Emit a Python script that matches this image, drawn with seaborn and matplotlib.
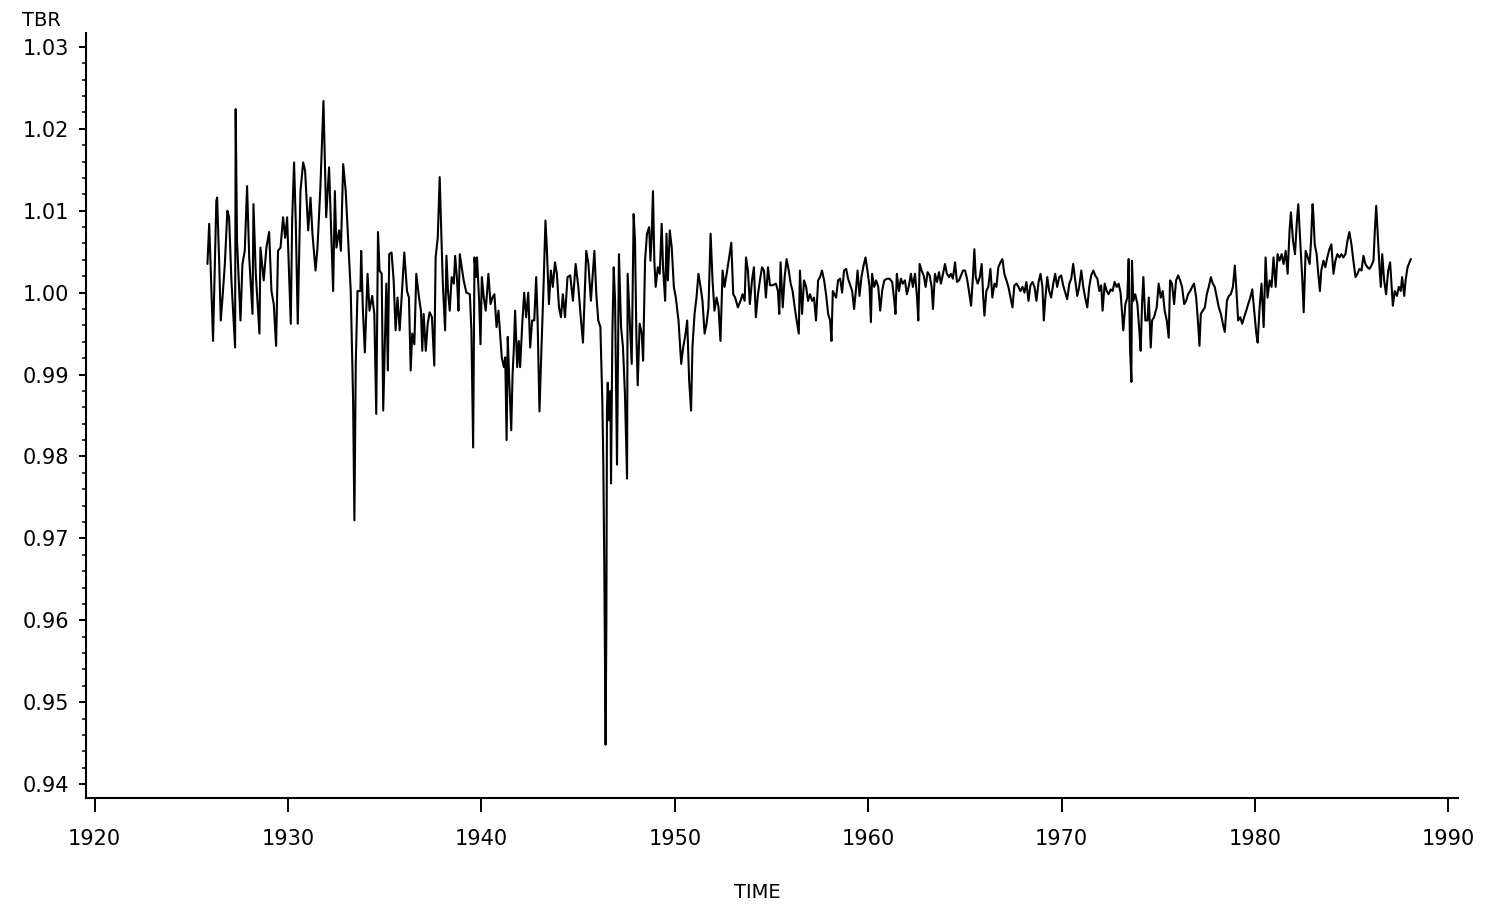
import matplotlib
matplotlib.use("Agg")
import matplotlib.pyplot as plt
import seaborn as sns
import pandas as pd
from matplotlib.ticker import MultipleLocator

# ---------------- data ----------------
TIME = [
    1925.83, 1925.92, 1925.98, 1926.12, 1926.29, 1926.33, 1926.43, 1926.52, 1926.61, 1926.73,
    1926.86, 1926.95, 1927.07, 1927.26, 1927.29, 1927.36, 1927.54, 1927.64, 1927.76, 1927.88,
    1927.99, 1928.16, 1928.21, 1928.33, 1928.52, 1928.57, 1928.74, 1928.88, 1929.02, 1929.14,
    1929.26, 1929.38, 1929.48, 1929.61, 1929.74, 1929.85, 1929.95, 1930.14, 1930.21, 1930.31,
    1930.40, 1930.50, 1930.64, 1930.78, 1930.88, 1931.04, 1931.16, 1931.26, 1931.42, 1931.52,
    1931.67, 1931.83, 1931.97, 1932.12, 1932.33, 1932.42, 1932.50, 1932.64, 1932.73, 1932.85,
    1932.98, 1933.24, 1933.36, 1933.43, 1933.50, 1933.59, 1933.74,
    1933.78, 1933.87, 1933.97, 1934.11, 1934.21, 1934.35, 1934.46, 1934.56, 1934.65, 1934.73,
    1934.84, 1934.92, 1935.01, 1935.08, 1935.16, 1935.23, 1935.35, 1935.46, 1935.56, 1935.66,
    1935.77, 1935.87, 1936.01, 1936.15, 1936.25, 1936.34, 1936.42, 1936.53, 1936.63, 1936.77,
    1936.87, 1936.94, 1937.01, 1937.12, 1937.22, 1937.32, 1937.44, 1937.56, 1937.63, 1937.74,
    1937.84, 1937.93, 1938.01, 1938.12, 1938.19, 1938.27, 1938.36, 1938.46, 1938.57, 1938.64,
    1938.74, 1938.81, 1938.88, 1938.98, 1939.08, 1939.22, 1939.40, 1939.48, 1939.57, 1939.64,
    1939.71, 1939.77, 1939.88, 1939.95, 1940.02, 1940.12, 1940.22, 1940.36, 1940.47, 1940.57,
    1940.67, 1940.78, 1940.88, 1941.05, 1941.16, 1941.23, 1941.30, 1941.36, 1941.43, 1941.54,
    1941.61, 1941.67, 1941.74,
    1941.85, 1941.93, 1942.00, 1942.11, 1942.21, 1942.31, 1942.42, 1942.52, 1942.62, 1942.73,
    1942.83, 1942.90, 1943.00, 1943.11, 1943.21, 1943.31, 1943.38, 1943.49, 1943.59, 1943.69,
    1943.80, 1943.90, 1944.01, 1944.11, 1944.21, 1944.32, 1944.45, 1944.59, 1944.73, 1944.87,
    1945.01, 1945.15, 1945.25, 1945.42, 1945.53, 1945.66, 1945.84, 1945.94, 1946.04, 1946.15,
    1946.25, 1946.30, 1946.35, 1946.42, 1946.46, 1946.49, 1946.53, 1946.60, 1946.67, 1946.70,
    1946.77, 1946.84, 1946.91, 1947.01, 1947.11, 1947.22, 1947.32, 1947.42, 1947.53, 1947.56,
    1947.67, 1947.77, 1947.87, 1947.94, 1948.01, 1948.08, 1948.18, 1948.29, 1948.36, 1948.46,
    1948.56, 1948.67, 1948.74, 1948.80, 1948.87, 1948.94, 1949.01, 1949.12, 1949.22, 1949.32,
    1949.39, 1949.50, 1949.57, 1949.64, 1949.74, 1949.84, 1949.95,
    1950.05, 1950.19, 1950.33, 1950.43, 1950.53, 1950.64, 1950.74, 1950.84, 1950.91, 1951.02,
    1951.12, 1951.22, 1951.33, 1951.43, 1951.54, 1951.64, 1951.74, 1951.85, 1951.95, 1952.05,
    1952.16, 1952.26, 1952.36, 1952.47, 1952.57, 1952.68, 1952.81, 1952.92, 1953.02, 1953.12,
    1953.26, 1953.40, 1953.50, 1953.61, 1953.68, 1953.78, 1953.88, 1953.99, 1954.09, 1954.19,
    1954.30, 1954.40, 1954.51, 1954.61, 1954.71, 1954.82, 1954.92, 1955.06, 1955.23, 1955.33,
    1955.40, 1955.47, 1955.58, 1955.68, 1955.78, 1955.89, 1955.99, 1956.09, 1956.20, 1956.30,
    1956.41, 1956.47, 1956.58, 1956.68, 1956.79, 1956.89, 1956.99, 1957.10, 1957.20, 1957.30,
    1957.41, 1957.51, 1957.61, 1957.72, 1957.82, 1957.93, 1958.03, 1958.10, 1958.17,
    1958.34, 1958.44, 1958.55, 1958.65, 1958.75, 1958.86, 1958.96, 1959.07, 1959.17, 1959.27,
    1959.38, 1959.45, 1959.55, 1959.65, 1959.76, 1959.86, 1959.96, 1960.07, 1960.14, 1960.20,
    1960.31, 1960.41, 1960.52, 1960.62, 1960.72, 1960.83, 1960.97, 1961.10, 1961.24, 1961.35,
    1961.41, 1961.48, 1961.59, 1961.69, 1961.79, 1961.90, 1962.00, 1962.11, 1962.21, 1962.31,
    1962.42, 1962.52, 1962.59, 1962.66, 1962.76, 1962.87, 1962.97, 1963.07, 1963.18, 1963.28,
    1963.35, 1963.45, 1963.56, 1963.66, 1963.76, 1963.87, 1963.97, 1964.07, 1964.18, 1964.28,
    1964.38, 1964.49, 1964.59, 1964.70, 1964.80, 1964.90, 1965.01, 1965.11, 1965.21, 1965.32,
    1965.42, 1965.49, 1965.56, 1965.66, 1965.77, 1965.87, 1965.94, 1966.01, 1966.11, 1966.21,
    1966.32, 1966.42, 1966.53,
    1966.63, 1966.73, 1966.84, 1966.94, 1967.04, 1967.15, 1967.25, 1967.36, 1967.46, 1967.56,
    1967.67, 1967.77, 1967.87, 1967.98, 1968.08, 1968.18, 1968.29, 1968.39, 1968.50, 1968.60,
    1968.70, 1968.81, 1968.91, 1969.01, 1969.08, 1969.15, 1969.26, 1969.36, 1969.46, 1969.57,
    1969.67, 1969.77, 1969.88, 1969.98, 1970.08, 1970.19, 1970.29, 1970.40, 1970.50, 1970.60,
    1970.71, 1970.81, 1970.91, 1971.02, 1971.12, 1971.22, 1971.33, 1971.43, 1971.53, 1971.64,
    1971.74, 1971.85, 1971.95, 1972.05, 1972.12, 1972.23, 1972.33, 1972.43, 1972.54, 1972.64,
    1972.74, 1972.85, 1972.95, 1973.05, 1973.12, 1973.19, 1973.30, 1973.40, 1973.47, 1973.54,
    1973.61, 1973.64, 1973.71, 1973.81, 1973.92, 1974.02, 1974.09, 1974.16, 1974.23, 1974.33,
    1974.44, 1974.51, 1974.61, 1974.68, 1974.78,
    1974.92, 1975.02, 1975.13, 1975.23, 1975.33, 1975.44, 1975.54, 1975.61, 1975.71, 1975.82,
    1975.92, 1976.03, 1976.13, 1976.23, 1976.34, 1976.44, 1976.54, 1976.65, 1976.75, 1976.85,
    1976.96, 1977.06, 1977.13, 1977.20, 1977.30, 1977.41, 1977.51, 1977.61, 1977.72, 1977.82,
    1977.92, 1978.03, 1978.13, 1978.24, 1978.34, 1978.44, 1978.55, 1978.65, 1978.75, 1978.86,
    1978.96, 1979.03, 1979.13, 1979.24, 1979.34, 1979.44, 1979.55, 1979.65, 1979.76, 1979.86,
    1979.96, 1980.07, 1980.14, 1980.24, 1980.34, 1980.45, 1980.55, 1980.65, 1980.76, 1980.86,
    1980.96, 1981.07, 1981.17, 1981.27, 1981.38, 1981.48, 1981.59, 1981.69, 1981.79, 1981.86,
    1981.97, 1982.07, 1982.17, 1982.24, 1982.35, 1982.45, 1982.52, 1982.62, 1982.73, 1982.83,
    1982.90, 1982.98, 1983.02, 1983.09, 1983.19, 1983.26, 1983.36, 1983.43, 1983.54, 1983.64,
    1983.74, 1983.85, 1983.95, 1984.06, 1984.16, 1984.26, 1984.37, 1984.47, 1984.57, 1984.68,
    1984.78, 1984.88, 1984.99, 1985.09, 1985.20, 1985.30, 1985.40, 1985.51, 1985.61, 1985.71,
    1985.82, 1985.92, 1986.02, 1986.13, 1986.20, 1986.27, 1986.37, 1986.44, 1986.51, 1986.58,
    1986.68, 1986.78, 1986.89, 1986.99, 1987.06, 1987.13, 1987.23, 1987.34, 1987.44, 1987.54,
    1987.61, 1987.72, 1987.79, 1987.89, 1987.96, 1988.06,
]

TBR = [
    1.0035, 1.0084, 1.0043, 0.9941, 1.0112, 1.0116, 1.0043, 0.9966, 0.9994, 1.0035,
    1.0100, 1.0092, 1.0015, 0.9933, 1.0224, 1.0063, 0.9966, 1.0035, 1.0051, 1.0130,
    1.0043, 0.9974, 1.0108, 1.0023, 0.9950, 1.0055, 1.0015, 1.0055, 1.0074, 1.0002,
    0.9986, 0.9935, 1.0051, 1.0055, 1.0092, 1.0067, 1.0092, 0.9962, 1.0088, 1.0159,
    1.0084, 0.9962, 1.0124, 1.0159, 1.0149, 1.0076, 1.0116, 1.0072, 1.0027, 1.0055,
    1.0128, 1.0234, 1.0092, 1.0153, 1.0002, 1.0124, 1.0055, 1.0076, 1.0051, 1.0157,
    1.0124, 1.0002, 0.9872, 0.9722, 0.9913, 1.0002, 1.0002,
    1.0051, 0.9978, 0.9927, 1.0023, 0.9978, 0.9996, 0.9974, 0.9852, 1.0074, 1.0027,
    1.0023, 0.9856, 0.9946, 1.0011, 0.9905, 1.0047, 1.0049, 1.0015, 0.9954, 0.9994,
    0.9954, 0.9994, 1.0049, 1.0002, 0.9994, 0.9905, 0.9950, 0.9937, 1.0023, 0.9994,
    0.9978, 0.9929, 0.9974, 0.9929, 0.9962, 0.9976, 0.9970, 0.9911, 1.0043, 1.0067,
    1.0141, 1.0067, 1.0007, 0.9954, 1.0045, 1.0002, 0.9978, 1.0019, 1.0011, 1.0045,
    1.0015, 0.9978, 1.0047, 1.0031, 1.0015, 1.0000, 0.9998, 0.9954, 0.9811, 1.0043,
    1.0019, 1.0043, 0.9990, 0.9937, 1.0019, 0.9994, 0.9978, 1.0023, 0.9986, 0.9994,
    0.9998, 0.9958, 0.9978, 0.9921, 0.9909, 0.9921, 0.9820, 0.9946, 0.9897, 0.9832,
    0.9901, 0.9929, 0.9978,
    0.9909, 0.9941, 0.9909, 0.9962, 1.0000, 0.9970, 1.0000, 0.9933, 0.9966, 0.9966,
    1.0019, 0.9970, 0.9855, 0.9937, 1.0007, 1.0088, 1.0055, 0.9986, 1.0027, 1.0007,
    1.0037, 1.0023, 0.9982, 0.9970, 0.9998, 0.9970, 1.0019, 1.0021, 0.9990, 1.0035,
    1.0007, 0.9966, 0.9939, 1.0051, 1.0035, 0.9990, 1.0051, 0.9998, 0.9966, 0.9958,
    0.9868, 0.9795, 0.9673, 0.9448, 0.9600, 0.9856, 0.9890, 0.9844, 0.9880, 0.9767,
    0.9950, 1.0031, 0.9990, 0.9790, 1.0047, 0.9958, 0.9933, 0.9876, 0.9773, 1.0023,
    0.9966, 0.9913, 1.0096, 1.0063, 0.9950, 0.9887, 0.9962, 0.9950, 0.9917, 1.0039,
    1.0072, 1.0080, 1.0039, 1.0067, 1.0124, 1.0039, 1.0007, 1.0031, 1.0023, 1.0084,
    1.0031, 0.9990, 1.0072, 1.0015, 1.0076, 1.0055, 1.0007,
    0.9994, 0.9966, 0.9913, 0.9933, 0.9946, 0.9966, 0.9893, 0.9856, 0.9933, 0.9974,
    0.9994, 1.0023, 1.0007, 0.9990, 0.9950, 0.9962, 0.9982, 1.0072, 1.0015, 0.9978,
    0.9994, 0.9982, 0.9941, 1.0027, 1.0007, 1.0023, 1.0043, 1.0061, 0.9998, 0.9994,
    0.9982, 0.9990, 0.9998, 0.9990, 1.0043, 1.0027, 0.9986, 1.0015, 1.0031, 0.9970,
    0.9998, 1.0015, 1.0031, 1.0027, 0.9994, 1.0031, 1.0009, 1.0009, 1.0011, 1.0002,
    0.9974, 1.0037, 0.9982, 1.0019, 1.0041, 1.0027, 1.0011, 1.0002, 0.9982, 0.9966,
    0.9950, 1.0027, 0.9974, 1.0015, 1.0007, 0.9990, 0.9998, 0.9990, 0.9994, 0.9966,
    1.0015, 1.0019, 1.0027, 1.0015, 0.9998, 0.9974, 0.9966, 0.9941, 1.0002,
    0.9994, 1.0015, 1.0017, 1.0000, 1.0027, 1.0029, 1.0017, 1.0009, 1.0002, 0.9980,
    1.0007, 1.0027, 0.9996, 1.0019, 1.0033, 1.0043, 1.0027, 1.0007, 0.9964, 1.0023,
    1.0007, 1.0015, 1.0007, 0.9978, 1.0002, 1.0015, 1.0017, 1.0017, 1.0013, 0.9990,
    0.9974, 1.0023, 1.0002, 1.0017, 1.0011, 1.0015, 0.9998, 1.0009, 1.0023, 1.0007,
    1.0023, 0.9996, 0.9966, 1.0035, 1.0027, 1.0021, 1.0007, 1.0025, 1.0021, 1.0007,
    0.9980, 1.0023, 1.0013, 1.0025, 1.0011, 1.0023, 1.0035, 1.0023, 1.0019, 1.0023,
    1.0017, 1.0037, 1.0013, 1.0015, 1.0021, 1.0027, 1.0027, 1.0017, 1.0002, 0.9984,
    1.0021, 1.0053, 1.0019, 1.0011, 1.0019, 1.0035, 0.9998, 0.9972, 1.0002, 1.0007,
    1.0029, 0.9994, 1.0011,
    1.0007, 1.0031, 1.0037, 1.0041, 1.0023, 1.0015, 1.0007, 0.9994, 0.9982, 1.0009,
    1.0011, 1.0007, 1.0002, 1.0007, 1.0000, 1.0013, 0.9990, 1.0009, 1.0013, 1.0007,
    0.9990, 1.0013, 1.0023, 1.0007, 0.9966, 0.9990, 1.0019, 1.0002, 0.9994, 1.0011,
    1.0023, 1.0007, 1.0019, 1.0021, 1.0009, 1.0000, 0.9992, 1.0011, 1.0017, 1.0035,
    1.0015, 0.9996, 1.0007, 1.0027, 1.0007, 0.9994, 0.9982, 1.0007, 1.0021, 1.0027,
    1.0021, 1.0017, 1.0002, 1.0009, 0.9978, 1.0011, 1.0002, 0.9998, 1.0004, 1.0002,
    1.0013, 1.0007, 1.0011, 1.0000, 0.9978, 0.9954, 0.9986, 0.9994, 1.0041, 0.9933,
    0.9891, 1.0039, 0.9990, 0.9998, 0.9986, 0.9954, 0.9929, 0.9986, 1.0019, 0.9966,
    0.9966, 0.9994, 0.9933, 0.9966, 0.9970,
    0.9982, 1.0011, 0.9994, 1.0002, 0.9978, 0.9966, 0.9945, 1.0015, 1.0011, 0.9986,
    1.0015, 1.0021, 1.0015, 1.0007, 0.9986, 0.9990, 0.9998, 1.0002, 1.0007, 1.0011,
    0.9994, 0.9962, 0.9935, 0.9974, 0.9978, 0.9982, 0.9998, 1.0007, 1.0019, 1.0011,
    1.0007, 0.9994, 0.9982, 0.9974, 0.9962, 0.9952, 0.9990, 0.9996, 0.9998, 1.0007,
    1.0033, 1.0007, 0.9966, 0.9970, 0.9962, 0.9970, 0.9978, 0.9986, 0.9994, 1.0004,
    0.9978, 0.9950, 0.9939, 0.9982, 1.0011, 0.9958, 1.0043, 0.9994, 1.0015, 1.0007,
    1.0043, 1.0007, 1.0047, 1.0039, 1.0047, 1.0035, 1.0051, 1.0023, 1.0076, 1.0098,
    1.0063, 1.0047, 1.0088, 1.0108, 1.0059, 1.0015, 0.9976, 1.0051, 1.0043, 1.0035,
    1.0063, 1.0108, 1.0096, 1.0059, 1.0047, 1.0027, 1.0002, 1.0027, 1.0039, 1.0031,
    1.0043, 1.0053, 1.0059, 1.0023, 1.0039, 1.0047, 1.0043, 1.0047, 1.0043, 1.0047,
    1.0063, 1.0074, 1.0059, 1.0039, 1.0019, 1.0023, 1.0029, 1.0027, 1.0045, 1.0035,
    1.0031, 1.0029, 1.0033, 1.0039, 1.0076, 1.0106, 1.0063, 1.0031, 1.0007, 1.0047,
    1.0015, 0.9998, 1.0027, 1.0037, 1.0011, 0.9984, 1.0002, 0.9996, 1.0007, 1.0002,
    1.0019, 0.9996, 1.0015, 1.0031, 1.0035, 1.0041,
]

X_TICKS = [1920, 1930, 1940, 1950, 1960, 1970, 1980, 1990]
Y_TICKS = [0.94, 0.95, 0.96, 0.97, 0.98, 0.99, 1.00, 1.01, 1.02, 1.03]
Y_TICK_LABELS = ["0.94", "0.95", "0.96", "0.97", "0.98", "0.99", "1.00", "1.01", "1.02", "1.03"]

# ---------------- plot ----------------
sns.set_style("ticks")
plt.rcParams["font.family"] = ["DejaVu Sans"]
plt.rcParams["text.color"] = "black"

W, H = 1488, 910
fig = plt.figure(figsize=(W / 100, H / 100), dpi=100)
ax = fig.add_axes([86 / W, 1 - 798 / H, (1458 - 86) / W, (798 - 33) / H])

df = pd.DataFrame({"TIME": TIME, "TBR": TBR})
sns.lineplot(data=df, x="TIME", y="TBR", color="black", linewidth=1.5,
             estimator=None, sort=False, ax=ax)

ax.set_xlim(1919.55, 1990.5)
ax.set_ylim(0.9383, 1.0317)
ax.set_xticks(X_TICKS)
ax.set_xticklabels([str(t) for t in X_TICKS])
ax.set_yticks(Y_TICKS)
ax.set_yticklabels(Y_TICK_LABELS)
ax.yaxis.set_minor_locator(MultipleLocator(0.002))

for s in ["top", "right"]:
    ax.spines[s].set_visible(False)
for s in ["left", "bottom"]:
    ax.spines[s].set_linewidth(1.5)
    ax.spines[s].set_color("black")

ax.tick_params(axis="x", which="major", length=10, width=1.4, pad=12,
               labelsize=15, colors="black", direction="out")
ax.tick_params(axis="y", which="major", length=5, width=1.4, pad=7,
               labelsize=15, colors="black", direction="out")
ax.tick_params(axis="y", which="minor", length=3, width=1.1, colors="black",
               direction="out")

ax.set_xlabel("")
ax.set_ylabel("")
ax.grid(False)

fig.text(757 / W, 1 - 893 / H, "TIME", ha="center", va="center",
         fontsize=14, color="black")
fig.text(22 / W, 1 - 20 / H, "TBR", ha="left", va="center",
         fontsize=14, color="black")

fig.savefig("out.png", dpi=100, facecolor="white")
